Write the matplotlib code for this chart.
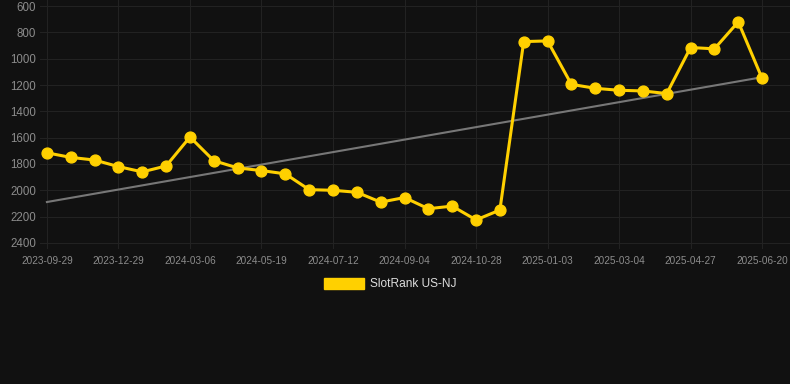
import matplotlib
matplotlib.use("Agg")
import matplotlib.pyplot as plt
from matplotlib.patches import Patch
import numpy as np

plt.rcParams["font.family"] = ["Liberation Sans", "DejaVu Sans"]

# rank values, one point every ~3 weeks (lower is better, axis inverted)
ranks = [1715, 1750, 1770, 1820, 1860, 1815, 1595, 1775, 1830, 1850,
         1875, 1995, 2000, 2015, 2090, 2055, 2140, 2120, 2225, 2150,
         870, 865, 1195, 1225, 1240, 1245, 1265, 915, 925, 720, 1150]

# labelled dates (every third point)
tick_labels = ["2023-09-29", "2023-12-29", "2024-03-06", "2024-05-19",
               "2024-07-12", "2024-09-04", "2024-10-28", "2025-01-03",
               "2025-03-04", "2025-04-27", "2025-06-20"]
tick_step = 3

y_ticks = [600, 800, 1000, 1200, 1400, 1600, 1800, 2000, 2200, 2400]

BG = "#111111"
YELLOW = "#FFD000"

x = np.arange(len(ranks))
slope, intercept = np.polyfit(x, ranks, 1)
trend = slope * x + intercept

fig = plt.figure(figsize=(7.9, 3.84), dpi=100, facecolor=BG)
ax = fig.add_axes([40 / 790, 1 - 249 / 384, 750 / 790, 249 / 384])
ax.set_facecolor(BG)

ax.plot(x, trend, color="#777777", linewidth=1.5, zorder=2)
ax.plot(x, ranks, color=YELLOW, linewidth=2.2, marker="o",
        markersize=7.8, zorder=3)

ax.set_xlim(-0.29, len(ranks) - 1 + 1.17)
ax.set_ylim(2446, 554)
ax.set_yticks(y_ticks)
ax.set_xticks(x[::tick_step])
ax.set_xticklabels(tick_labels)

ax.grid(True, color="#222222", linewidth=0.8)
ax.set_axisbelow(True)
for s in ax.spines.values():
    s.set_visible(False)
ax.tick_params(axis="both", length=0, colors="#8c8c8c")
ax.tick_params(axis="x", labelsize=7.2, pad=5)
ax.tick_params(axis="y", labelsize=8.3, pad=3)

fig.legend(handles=[Patch(facecolor=YELLOW, edgecolor=YELLOW,
                          label="SlotRank US-NJ")],
           loc="center", bbox_to_anchor=(0.494, 0.26), frameon=False,
           fontsize=8.6, labelcolor="#dddddd", handlelength=3.3,
           handleheight=1.0, handletextpad=0.5)

fig.savefig("out.png", dpi=100, facecolor=BG)
plt.close(fig)
